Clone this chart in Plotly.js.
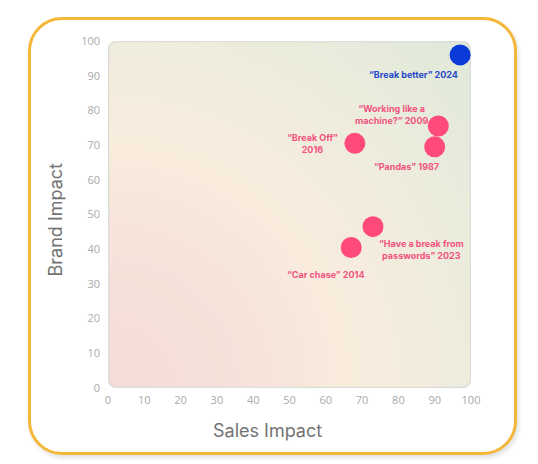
<!DOCTYPE html>
<html>
<head>
<meta charset="utf-8">
<script src="https://cdn.plot.ly/plotly-3.0.1.min.js"></script>
<style>
  body { margin: 0; background: #fff; }
  #frame {
    position: absolute; left: 28px; top: 17px;
    width: 483px; height: 432px;
    border: 3px solid #F4B73A; border-radius: 34px;
    box-shadow: 2px 3px 4px rgba(0,0,0,0.12);
    background: #fff;
  }
  #chart { position: absolute; left: 0; top: 0; width: 538px; height: 464px; }
</style>
</head>
<body>
<div id="frame"></div>
<div id="chart"></div>
<script>
// campaigns
var campaigns = ['\u201cBreak better\u201d 2024', '\u201cWorking like a<br>machine?\u201d 2009', '\u201cBreak Off\u201d<br>2016',
                 '\u201cPandas\u201d 1987', '\u201cHave a break from<br>passwords\u201d 2023', '\u201cCar chase\u201d 2014'];
var years = [2024, 2009, 2016, 1987, 2023, 2014];
var salesImpact = [97, 91, 68, 90, 73, 67];
var brandImpact = [96, 75.5, 70.5, 69.5, 46.5, 40.5];
var tickVals = [0, 10, 20, 30, 40, 50, 60, 70, 80, 90, 100];
var xTitle = 'Sales Impact', yTitle = 'Brand Impact';

// label offsets in px (dx right, dy up)
var labelShift = [[-47, -20], [-46, 12], [-42, 0], [-28, -20], [49, -23], [-25, -27]];

var pink = '#FF4A7A', blue = '#0A3AD8';

function plotBackground () {
    // gradient panel with rounded corners, drawn to a canvas
    var w = 363 * 2, h = 347 * 2, r = 16;
    var c = document.createElement('canvas');
    c.width = w; c.height = h;
    var ctx = c.getContext('2d');
    var g = ctx.createRadialGradient(0, h, 0, 0, h, Math.sqrt(w * w + h * h));
    g.addColorStop(0, '#F5DCD7');
    g.addColorStop(0.25, '#F6E2DA');
    g.addColorStop(0.48, '#F9ECDD');
    g.addColorStop(0.7, '#EFEDDD');
    g.addColorStop(1, '#DFE9DA');
    ctx.beginPath();
    ctx.moveTo(r, 1);
    ctx.arcTo(w - 1, 1, w - 1, h - 1, r);
    ctx.arcTo(w - 1, h - 1, 1, h - 1, r);
    ctx.arcTo(1, h - 1, 1, 1, r);
    ctx.arcTo(1, 1, w - 1, 1, r);
    ctx.closePath();
    ctx.fillStyle = g;
    ctx.fill();
    ctx.lineWidth = 3;
    ctx.strokeStyle = '#DCDCDA';
    ctx.stroke();
    return c.toDataURL();
}

function BuildChart () {
    var colors = years.map(function (y) { return y === 2024 ? blue : pink; });

    var data = [{
        type: 'scatter',
        mode: 'markers',
        x: salesImpact,
        y: brandImpact,
        marker: { size: 21, color: colors, line: { width: 0 } },
        hoverinfo: 'x+y',
        showlegend: false
    }];

    var annotations = campaigns.map(function (t, i) {
        return {
            x: salesImpact[i], y: brandImpact[i],
            xref: 'x', yref: 'y',
            text: '<b>' + t + '</b>',
            showarrow: false,
            xanchor: 'center', yanchor: 'middle',
            xshift: labelShift[i][0], yshift: labelShift[i][1],
            font: { family: 'Inter, Roboto, sans-serif', size: 9, color: colors[i] === blue ? '#2647C9' : '#F2527E' },
            align: 'center'
        };
    });

    // axis titles sit a little off-centre in the original, so place them by hand
    var titleFont = { family: 'Inter, sans-serif', size: 18, color: '#747474' };
    annotations.push({
        xref: 'paper', yref: 'paper', x: 0.44, y: 0,
        text: xTitle, showarrow: false, xanchor: 'center', yanchor: 'middle',
        yshift: -42, font: titleFont
    });
    annotations.push({
        xref: 'paper', yref: 'paper', x: 0, y: 0.5,
        text: yTitle, showarrow: false, textangle: -90,
        xanchor: 'center', yanchor: 'middle',
        xshift: -53, yshift: -5, font: titleFont
    });

    var layout = {
        width: 538,
        height: 464,
        margin: { l: 108, r: 67, t: 41, b: 76 },
        paper_bgcolor: 'rgba(0,0,0,0)',
        plot_bgcolor: 'rgba(0,0,0,0)',
        font: { family: 'Open Sans, sans-serif' },
        xaxis: {
            range: [0, 100], tickvals: tickVals, showgrid: false, zeroline: false,
            showline: false, ticks: '', fixedrange: true, ticklabelstandoff: 4,
            tickfont: { size: 11, color: '#AAAAAA' }
        },
        yaxis: {
            range: [0, 100], tickvals: tickVals, showgrid: false, zeroline: false,
            showline: false, ticks: '', fixedrange: true, ticklabelstandoff: 7,
            tickfont: { size: 11, color: '#AAAAAA' }
        },
        images: [{
            source: plotBackground(),
            xref: 'paper', yref: 'paper',
            x: 0, y: 1, sizex: 1, sizey: 1,
            xanchor: 'left', yanchor: 'top',
            sizing: 'stretch', layer: 'below'
        }],
        annotations: annotations
    };

    Plotly.newPlot('chart', data, layout, { displayModeBar: false, staticPlot: true });
}

BuildChart();
</script>
</body>
</html>
